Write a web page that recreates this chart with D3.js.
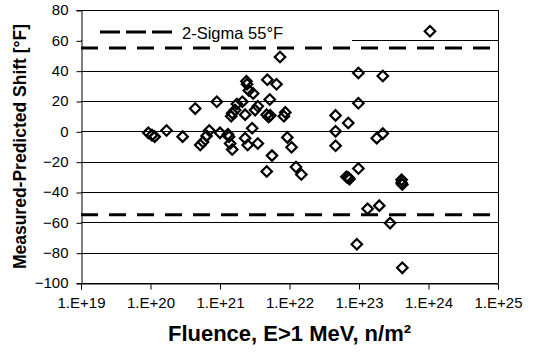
<!DOCTYPE html>
<html><head><meta charset="utf-8">
<script src="https://cdn.jsdelivr.net/npm/d3@7/dist/d3.min.js"></script>
<style>body{margin:0;background:#fff;} text{font-family:"Liberation Sans",Arial,sans-serif;}</style>
</head><body>
<svg id="c" width="533" height="356"></svg>
<script>
const fluence = [9.3e19,1.05e20,1.15e20,1.7e20,2.9e20,4.4e20,5.2e20,5.7e20,6.4e20,7.0e20,
  9.0e20,1.3e21,1.35e21,1.4e21,1.5e21,1.45e21,1.5e21,1.75e21,1.65e21,2.4e21,
  2.45e21,2.6e21,3.0e21,2.3e21,2.3e21,2.5e21,2.9e21,3.5e21,3.5e21,2.1e21,
  4.8e21,5.2e21,4.7e21,5.0e21,4.7e21,5.6e21,6.5e21,7.3e21,8.7e21,8.3e21,
  9.3e21,1.07e22,1.24e22,1.48e22,4.6e22,4.6e22,4.6e22,7.0e22,6.6e22,7.3e22,
  7.0e22,9.8e22,9.8e22,9.8e22,9.3e22,1.33e23,1.96e23,2.2e23,1.8e23,2.2e23,
  2.8e23,4.1e23,4.1e23,4.2e23,4.2e23,1.05e24,1.0e21,5.3e21,3.2e21];
const shift = [-1,-2.5,-3.5,0.5,-3.5,15,-9,-7,-3,0.5,
  19.5,-2,-3.5,-8,-12,10,12,18,14,33,
  31,27,25,11,-4.5,-9,2,16.5,-8,19.5,
  34,21,11,9.5,-26.5,-16,31,49,12.5,10,
  -4,-10.5,-23.5,-28.5,10.5,0,-9.5,5.5,-30,-31.5,
  -30.5,-24.5,38.5,18.5,-74.5,-51,-49,36.5,-4.5,-1.5,
  -60.5,-32,-34,-35,-90,66,-1,10.5,14];
const yTicks = [-100,-80,-60,-40,-20,0,20,40,60,80];
const xTicks = [1e19,1e20,1e21,1e22,1e23,1e24,1e25];
const sigma = 55;
const legendLabel = "2-Sigma 55°F";

const svg = d3.select("#c");
const L=81, R=498, T=10, B=283;
const x = d3.scaleLog().domain([1e19,1e25]).range([L,R]);
const y = d3.scaleLinear().domain([-100,80]).range([B,T]);

// gridlines
svg.append("g").selectAll("line").data(yTicks).join("line")
  .attr("x1",L).attr("x2",R)
  .attr("y1",d=>Math.round(y(d))+0.5).attr("y2",d=>Math.round(y(d))+0.5)
  .attr("stroke","#000").attr("stroke-width",1);
// right border
svg.append("line").attr("x1",R+0.5).attr("x2",R+0.5).attr("y1",T).attr("y2",B)
  .attr("stroke","#000");

// legend background
svg.append("rect").attr("x",L+1).attr("y",T+3).attr("width",352-L-1).attr("height",32).attr("fill","#fff");

// axes
const fmt = d => "1.E+" + Math.round(Math.log10(d));
const xAxis = svg.append("g").attr("transform",`translate(0,${B+0.5})`)
  .call(d3.axisBottom(x).tickValues(xTicks).tickFormat(fmt).tickSize(6).tickPadding(8));
const yAxis = svg.append("g").attr("transform",`translate(${L+0.5},0)`)
  .call(d3.axisLeft(y).tickValues(yTicks).tickSize(5).tickPadding(8));
[xAxis,yAxis].forEach(g=>{
  g.select(".domain").attr("stroke","#000");
  g.selectAll(".tick line").attr("stroke","#000");
  g.selectAll(".tick text").attr("fill","#000").style("font-size","15px")
   .style("font-family",'"Liberation Sans",Arial,sans-serif');
});
yAxis.selectAll(".tick line").attr("transform","translate(0,0.5)");

// sigma lines
svg.append("g").selectAll("line").data([sigma,-sigma]).join("line")
  .attr("x1",L).attr("x2",R).attr("y1",d=>y(d)).attr("y2",d=>y(d))
  .attr("stroke","#000").attr("stroke-width",3).attr("stroke-dasharray","17,11");

// points
const diamond = {draw(ctx,size){const r=Math.sqrt(size/2);ctx.moveTo(0,-r);ctx.lineTo(r,0);ctx.lineTo(0,r);ctx.lineTo(-r,0);ctx.closePath();}};
svg.append("g").selectAll("path").data(fluence.map((f,i)=>[f,shift[i]])).join("path")
  .attr("d",d3.symbol(diamond,55))
  .attr("transform",d=>`translate(${x(d[0])},${y(d[1])})`)
  .attr("fill","none").attr("stroke","#000").attr("stroke-width",2.2);

// legend
svg.append("line").attr("x1",100).attr("x2",172).attr("y1",32).attr("y2",32)
  .attr("stroke","#000").attr("stroke-width",3).attr("stroke-dasharray","20,6");
svg.append("text").attr("x",182).attr("y",39).style("font-size","16.5px").text(legendLabel);

// axis titles
svg.append("text").attr("x",(L+R)/2).attr("y",341).attr("text-anchor","middle")
  .style("font-size","22px").style("font-weight","bold").text("Fluence, E>1 MeV, n/m²");
svg.append("text").attr("transform",`translate(26,${(T+B)/2}) rotate(-90)`).attr("text-anchor","middle")
  .style("font-size","17.5px").style("font-weight","bold").text("Measured-Predicted Shift [°F]");
</script>
</body></html>
